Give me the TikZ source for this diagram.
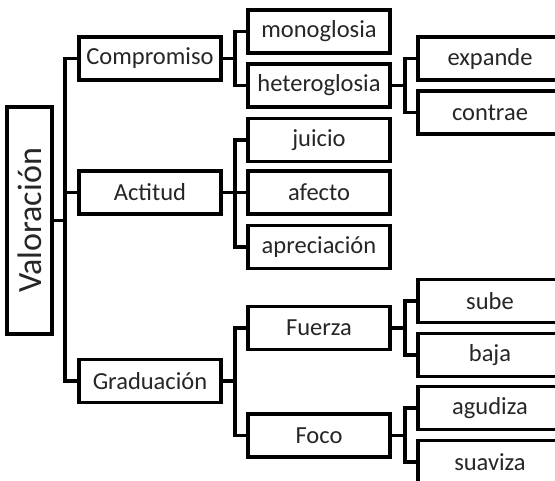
\documentclass[tikz,border=0pt]{standalone}
\usepackage{fontspec}
\setmainfont{Carlito}
\begin{document}
\begin{tikzpicture}[x=1pt,y=-1pt,
  box/.style={draw=black,line width=3.5pt,rectangle,inner sep=0pt,text=black!85,font=\fontsize{24.5}{26}\selectfont},
  lvA/.style={box,minimum width=142pt,minimum height=43pt},
  lvB/.style={box,minimum width=142pt,minimum height=43pt},
  lvC/.style={box,minimum width=144pt,minimum height=43pt},
  conn/.style={line width=3.5pt,line join=miter}]
\clip (0,0) rectangle (555,481);
\useasboundingbox (0,0) rectangle (555,481);
\fill[white] (0,0) rectangle (555,481);
% root
\node[box,minimum width=45pt,minimum height=227pt] (val) at (29.5,220.5) {};
\node[rotate=90,text=black!85,font=\fontsize{34}{36}\selectfont] (valt) at (val.center) {Valoración};
% level 1
\node[lvA] (comp) at (150,58.5) {Compromiso};
\node[lvA] (act) at (150,192.5) {Actitud};
\node[lvA] (grad) at (150,381) {Graduación};
% level 2
\node[lvB] (mono) at (319,31.5) {monoglosia};
\node[lvB] (hete) at (319,85.5) {heteroglosia};
\node[lvB] (juic) at (319,140) {juicio};
\node[lvB] (afec) at (319,192.5) {afecto};
\node[lvB] (apre) at (319,247) {apreciación};
\node[lvB] (fuer) at (319,328) {Fuerza};
\node[lvB] (foco) at (319,435.5) {Foco};
% level 3
\node[lvC] (expa) at (490,58.5) {expande};
\node[lvC] (cont) at (490,112.5) {contrae};
\node[lvC] (sube) at (490,301) {sube};
\node[lvC] (baja) at (490,355) {baja};
\node[lvC] (agud) at (490,408) {agudiza};
\node[lvC] (suav) at (490,462) {suaviza};
% bus coordinates
\coordinate (b1) at (65,0);
\coordinate (b2) at (235,0);
\coordinate (b3) at (405,0);
% connectors level 1
\draw[conn] (val.east) -- (val.east -| b1);
\draw[conn] (comp.west) -- (comp.west -| b1) |- (grad.west);
\draw[conn] (act.west) -- (act.west -| b1);
% level 2
\draw[conn] (comp.east) -- (comp.east -| b2);
\draw[conn] (mono.west) -- (mono.west -| b2) |- (hete.west);
\draw[conn] (act.east) -- (act.east -| b2);
\draw[conn] (juic.west) -- (juic.west -| b2) |- (apre.west);
\draw[conn] (afec.west) -- (afec.west -| b2);
\draw[conn] (grad.east) -- (grad.east -| b2);
\draw[conn] (fuer.west) -- (fuer.west -| b2) |- (foco.west);
% level 3
\draw[conn] (hete.east) -- (hete.east -| b3);
\draw[conn] (expa.west) -- (expa.west -| b3) |- (cont.west);
\draw[conn] (fuer.east) -- (fuer.east -| b3);
\draw[conn] (sube.west) -- (sube.west -| b3) |- (baja.west);
\draw[conn] (foco.east) -- (foco.east -| b3);
\draw[conn] (agud.west) -- (agud.west -| b3) |- (suav.west);
\end{tikzpicture}
\end{document}
